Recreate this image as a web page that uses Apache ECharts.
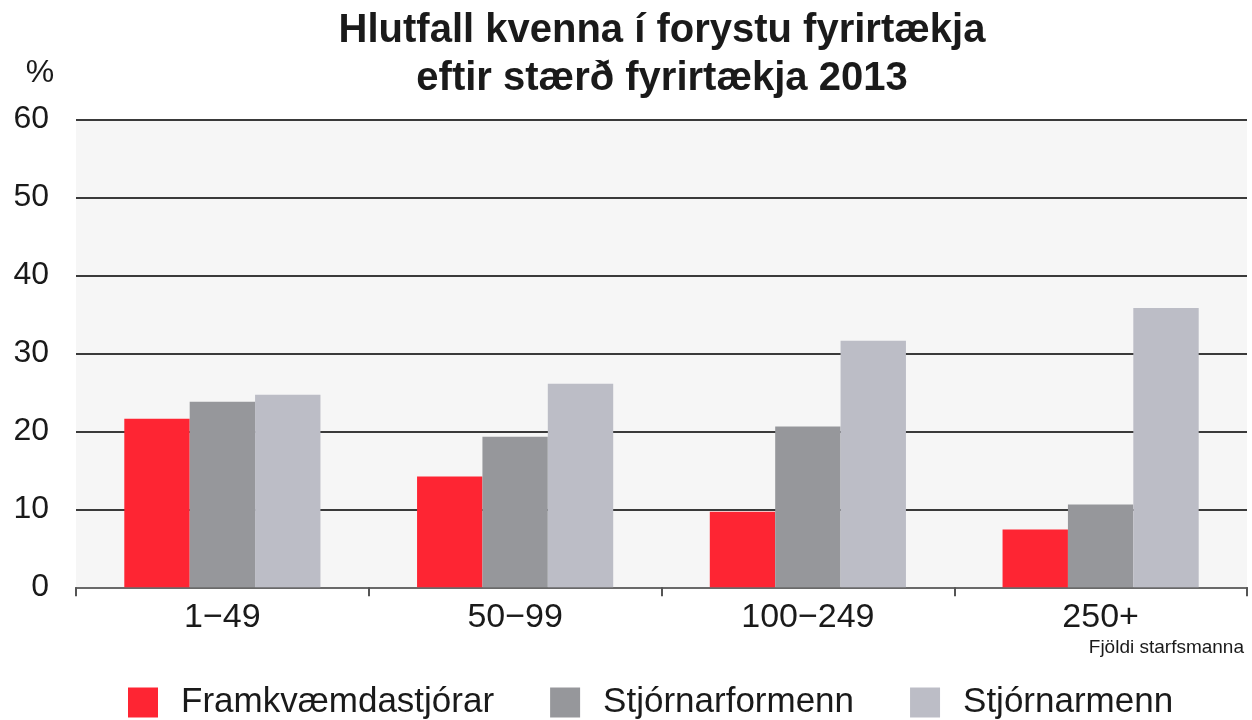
<!DOCTYPE html>
<html>
<head>
<meta charset="utf-8">
<script src="https://cdn.jsdelivr.net/npm/echarts@6/dist/echarts.min.js"></script>
<style>
  html, body { margin: 0; padding: 0; background: #fff; }
  #chart { width: 1252px; height: 720px; }
</style>
</head>
<body>
<div id="chart"></div>
<script type="text/javascript">
    // gögn lesin af myndinni
    var categories = ['1\u221249', '50\u221299', '100\u2212249', '250+'];
    var seriesNames = ['Framkvæmdastjórar', 'Stjórnarformenn', 'Stjórnarmenn'];
    var framkv = [21.6, 14.2, 9.7, 7.4];
    var formenn = [23.8, 19.3, 20.6, 10.6];
    var stjornarmenn = [24.7, 26.1, 31.6, 35.8];
    var yTicks = [0, 10, 20, 30, 40, 50, 60];

    var colors = ['#fe2533', '#96979b', '#bcbdc6'];
    var font = '"Liberation Sans", Arial, sans-serif';

    var myChart = echarts.init(document.getElementById('chart'));

    var option = {
        animation: false,
        backgroundColor: '#ffffff',
        color: colors,
        title: {
            text: 'Hlutfall kvenna í forystu fyrirtækja\neftir stærð fyrirtækja 2013',
            left: 657,
            top: 2,
            textAlign: 'center',
            textStyle: {
                fontFamily: font,
                fontSize: 40,
                fontWeight: 'bold',
                lineHeight: 48,
                color: '#1a1a1a'
            }
        },
        grid: {
            left: 76,
            right: 5,
            top: 119.3,
            bottom: 132.7,
            show: true,
            backgroundColor: '#f6f6f6',
            borderWidth: 0
        },
        legend: {
            data: seriesNames,
            left: 123,
            top: 680,
            icon: 'rect',
            itemWidth: 30,
            itemHeight: 30,
            itemGap: 56,
            textStyle: {
                fontFamily: font,
                fontSize: 35,
                color: '#1a1a1a',
                padding: [0, 0, 0, 18]
            }
        },
        xAxis: {
            type: 'category',
            data: categories,
            axisLine: { lineStyle: { color: '#6a6a6a', width: 2 } },
            axisTick: { show: true, length: 9, lineStyle: { color: '#555', width: 2 } },
            axisLabel: {
                margin: 13,
                fontFamily: font,
                fontSize: 34,
                color: '#1a1a1a'
            }
        },
        yAxis: {
            type: 'value',
            min: yTicks[0],
            max: yTicks[yTicks.length - 1],
            interval: 10,
            axisLine: { show: false },
            axisTick: { show: false },
            axisLabel: {
                margin: 27,
                fontFamily: font,
                fontSize: 32,
                color: '#1a1a1a'
            },
            splitLine: { lineStyle: { color: '#3a3a3a', width: 2 } }
        },
        graphic: [
            {
                type: 'text',
                x: 40, y: 73,
                style: {
                    text: '%',
                    font: '32px ' + font,
                    fill: '#1a1a1a',
                    textAlign: 'center',
                    textVerticalAlign: 'middle'
                }
            },
            {
                type: 'text',
                x: 1244, y: 648,
                style: {
                    text: 'Fjöldi starfsmanna',
                    font: '19px ' + font,
                    fill: '#1a1a1a',
                    textAlign: 'right',
                    textVerticalAlign: 'middle'
                }
            }
        ],
        series: [
            { name: seriesNames[0], type: 'bar', data: framkv, barGap: 0, barCategoryGap: '33%' },
            { name: seriesNames[1], type: 'bar', data: formenn, barGap: 0, barCategoryGap: '33%' },
            { name: seriesNames[2], type: 'bar', data: stjornarmenn, barGap: 0, barCategoryGap: '33%' }
        ]
    };

    myChart.setOption(option);
</script>
</body>
</html>
